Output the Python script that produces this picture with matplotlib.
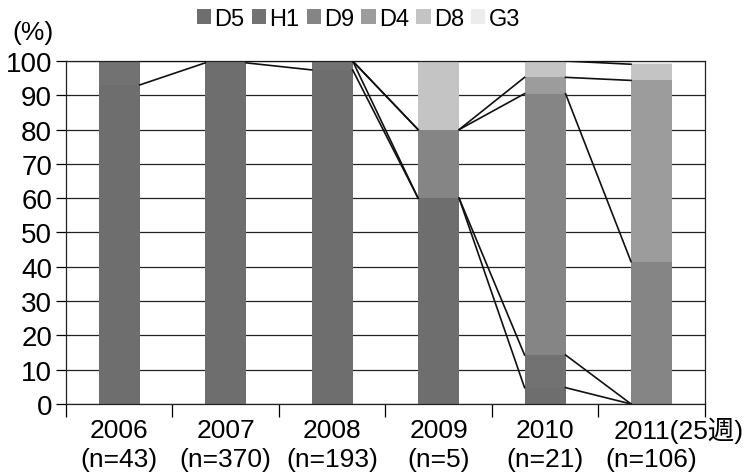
import numpy as np
import matplotlib.pyplot as plt
import matplotlib.transforms as mtransforms

plt.rcParams['font.family'] = ['Liberation Sans', 'Noto Sans CJK JP']

# ===数据（每年各型别的株数）
years = ['2006', '2007', '2008', '2009', '2010', '2011']
year_notes = ['', '', '', '', '', '(25週)']
n_labels = ['(n=43)', '(n=370)', '(n=193)', '(n=5)', '(n=21)', '(n=106)']
n_total = [43, 370, 193, 5, 21, 106]

types = ['D5', 'H1', 'D9', 'D4', 'D8', 'G3']
d5 = [40, 368, 188, 3, 1, 0]
h1 = [3, 2, 5, 0, 2, 0]
d9 = [0, 0, 0, 1, 16, 44]
d4 = [0, 0, 0, 0, 1, 56]
d8 = [0, 0, 0, 1, 1, 5]
g3 = [0, 0, 0, 0, 0, 1]
colors = ['#6e6e6e', '#727272', '#858585', '#9c9c9c', '#c4c4c4', '#ececec']

fig = plt.figure(figsize=(7.47, 4.77), dpi=100)
ax = fig.add_axes([0.0884, 0.151, 0.855, 0.719])

x = np.arange(len(years))
w = 0.385
bottom = np.zeros(len(years))
tops = []
handles = []
for name, vals, c in zip(types, [d5, h1, d9, d4, d8, g3], colors):
    pct = np.array(vals) / np.array(n_total) * 100
    b = ax.bar(x, pct, w, bottom=bottom, color=c, label=name, zorder=2)
    handles.append(b)
    bottom = bottom + pct
    tops.append(bottom.copy())

# ===系列线
for top in tops:
    for i in range(len(x) - 1):
        ax.plot([x[i] + w / 2, x[i + 1] - w / 2], [top[i], top[i + 1]],
                color='#111111', lw=1.2, zorder=3)

ax.set_xlim(-0.5, len(x) - 0.5)
ax.set_ylim(0, 100)
ax.set_yticks(range(0, 101, 10))
ax.yaxis.grid(True, color='#222222', lw=0.9)
ax.set_axisbelow(True)
ax.tick_params(axis='y', labelsize=20, length=7, width=0.9, pad=3)
ax.set_xticks(np.arange(-0.5, len(x), 1))
ax.set_xticklabels([])
ax.tick_params(axis='x', length=9, width=0.9)
for s in ['left', 'bottom', 'right', 'top']:
    ax.spines[s].set_linewidth(0.9)
    ax.spines[s].set_color('#222222')

trans = mtransforms.blended_transform_factory(ax.transData, ax.transAxes)
for i in range(len(x)):
    if year_notes[i]:
        # 最后一个标签靠右放，避免超出画布
        ax.text(x[i] + 0.87, -0.076, years[i] + year_notes[i], transform=trans,
                ha='right', va='center', fontsize=19)
    else:
        ax.text(x[i], -0.076, years[i], transform=trans, ha='center', va='center', fontsize=19)
    ax.text(x[i], -0.160, n_labels[i], transform=trans, ha='center', va='center', fontsize=19)

fig.text(0.016, 0.931, '(%)', fontsize=19, va='center')
fig.legend(handles, types, ncol=6, loc='center', bbox_to_anchor=(0.48, 0.958), frameon=False,
           fontsize=17, handlelength=0.6, handleheight=0.6, handletextpad=0.15, columnspacing=0.3,
           borderaxespad=0)

fig.savefig('out.png', dpi=100)
